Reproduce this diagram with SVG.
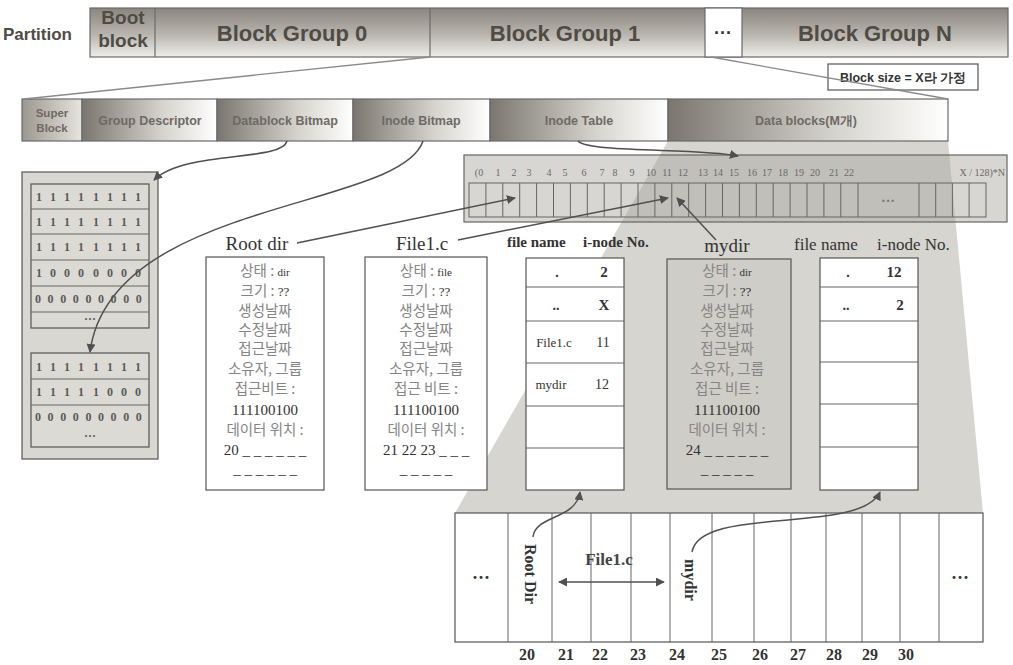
<svg xmlns="http://www.w3.org/2000/svg" width="1013" height="665" viewBox="0 0 1013 665">
<defs>
<linearGradient id="gv" x1="0" y1="0" x2="0" y2="1">
<stop offset="0" stop-color="#8a867f"/><stop offset="0.55" stop-color="#b9b6af"/><stop offset="1" stop-color="#efeee9"/>
</linearGradient>
<linearGradient id="gh" x1="0" y1="0" x2="1" y2="0">
<stop offset="0" stop-color="#7a766f"/><stop offset="0.6" stop-color="#d6d4ce"/><stop offset="1" stop-color="#ffffff"/>
</linearGradient>
<linearGradient id="gs" x1="0" y1="0" x2="1" y2="0">
<stop offset="0" stop-color="#9c978f"/><stop offset="1" stop-color="#e6e4de"/>
</linearGradient>
<marker id="ah" viewBox="0 0 10 10" refX="9" refY="5" markerWidth="6" markerHeight="6" orient="auto-start-reverse">
<path d="M0,0 L10,5 L0,10 z" fill="#505050"/>
</marker>
</defs>
<style>
.bar{stroke:#6a6a6a;stroke-width:1.2}
.bt{font-family:"Liberation Sans",Arial,sans-serif;font-weight:bold;fill:#4f4b45;text-anchor:middle}
.st{font-family:"Liberation Sans",Arial,sans-serif;font-weight:bold;fill:#6e6a63;font-size:12.5px;text-anchor:middle}
.box{fill:#fff;stroke:#555;stroke-width:1.2}
.gbox{fill:#cfcdc7;stroke:#555;stroke-width:1.2}
.ko{font-family:"Noto Sans CJK KR","Noto Sans",sans-serif;font-size:14.5px;fill:#858585;text-anchor:middle}
.sr{font-family:"Liberation Serif","Times New Roman",serif;fill:#333}
.num{font-family:"Liberation Serif","Times New Roman",serif;font-size:10px;fill:#6a6a6a;text-anchor:middle}
.bits{font-family:"Liberation Serif","Times New Roman",serif;font-size:12px;font-weight:bold;fill:#5a5a5a;text-anchor:middle}
.cell{fill:none;stroke:#666;stroke-width:1}
.con{fill:none;stroke:#505050;stroke-width:1.5}
.thin{fill:none;stroke:#8a8a8a;stroke-width:1.3}
</style>

<rect width="1013" height="665" fill="#ffffff"/>

<!-- gray wedge (data blocks expansion) -->
<polygon id="wedge" points="668,141 948,141 983,513 455,513" fill="#d6d5cf"/>

<g id="partition">
<text x="3" y="40" class="bt" style="text-anchor:start;font-size:17px">Partition</text>
<rect x="90" y="8" width="918" height="49" fill="url(#gv)" class="bar"/>
<line x1="155" y1="8" x2="155" y2="57" class="bar"/>
<line x1="430" y1="8" x2="430" y2="57" class="bar"/>
<rect x="705" y="8" width="37" height="49" fill="#fff" class="bar"/>
<text x="123" y="24" class="bt" style="font-size:19px">Boot</text>
<text x="123" y="47" class="bt" style="font-size:19px">block</text>
<text x="292" y="41" class="bt" style="font-size:22px">Block Group 0</text>
<text x="565" y="41" class="bt" style="font-size:22px">Block Group 1</text>
<text x="723" y="39" class="bt" style="font-size:18px;fill:#333">···</text>
<text x="875" y="41" class="bt" style="font-size:22px">Block Group N</text>
</g>

<g id="blocksize">
<rect x="828" y="64" width="150" height="26" class="box"/>
<text x="903" y="82" class="bt" style="font-size:12.5px;fill:#333">Block size = X라 가정</text>
</g>

<g id="groupbar">
<rect x="22" y="99" width="60" height="42" fill="url(#gs)" class="bar"/>
<rect x="82" y="99" width="135" height="42" fill="url(#gh)" class="bar"/>
<rect x="217" y="99" width="136" height="42" fill="url(#gh)" class="bar"/>
<rect x="353" y="99" width="137" height="42" fill="url(#gh)" class="bar"/>
<rect x="490" y="99" width="178" height="42" fill="url(#gh)" class="bar"/>
<rect x="668" y="99" width="280" height="42" fill="url(#gh)" class="bar"/>
<text x="52" y="117" class="st" style="font-size:11.5px">Super</text>
<text x="52" y="132" class="st" style="font-size:11.5px">Block</text>
<text x="150" y="125" class="st">Group  Descriptor</text>
<text x="285" y="125" class="st">Datablock  Bitmap</text>
<text x="421" y="125" class="st">Inode  Bitmap</text>
<text x="579" y="125" class="st">Inode  Table</text>
<text x="806" y="125" class="st">Data blocks(M개)</text>
</g>

<g id="inodebitmap">
<rect x="22" y="172" width="136" height="287" fill="#d9d7d1" stroke="#555" stroke-width="1.2"/>
<rect x="31" y="184" width="118" height="144" fill="#dcdad4" stroke="#555" stroke-width="1.2"/>
<line x1="31" y1="209" x2="149" y2="209" class="cell"/>
<line x1="31" y1="234" x2="149" y2="234" class="cell"/>
<line x1="31" y1="260" x2="149" y2="260" class="cell"/>
<line x1="31" y1="286" x2="149" y2="286" class="cell"/>
<line x1="31" y1="312" x2="149" y2="312" class="cell"/>
<text class="bits" y="201" x="39 53 67 81 96 110 124 138">11111111</text>
<text class="bits" y="226" x="39 53 67 81 96 110 124 138">11111111</text>
<text class="bits" y="251" x="39 53 67 81 96 110 124 138">11111111</text>
<text class="bits" y="277" x="39 53 67 81 96 110 124 138">10000000</text>
<text class="bits" y="303" x="38 50.6 63.2 75.8 88.4 101 113.6 126.2 138.8">000000000</text>
<text class="bits" y="323" x="90">···</text>
<rect x="31" y="353" width="118" height="94" fill="#dcdad4" stroke="#555" stroke-width="1.2"/>
<line x1="31" y1="379" x2="149" y2="379" class="cell"/>
<line x1="31" y1="405" x2="149" y2="405" class="cell"/>
<text class="bits" y="371" x="39 53 67 81 96 110 124 138">11111111</text>
<text class="bits" y="396" x="39 53 67 81 96 110 124 138">11111000</text>
<text class="bits" y="421" x="38 50.6 63.2 75.8 88.4 101 113.6 126.2 138.8">000000000</text>
<text class="bits" y="440" x="90">···</text>
</g>

<g id="inodetable">
<rect x="464" y="155" width="543" height="67" fill="#a8a59e" fill-opacity="0.45" stroke="#666" stroke-width="1.2"/>
<rect x="469" y="183" width="517" height="34" class="cell"/>
<path class="cell" d="M485.9 183V217M502.8 183V217M519.7 183V217M536.6 183V217M553.5 183V217M570.4 183V217M587.3 183V217M604.2 183V217M621.1 183V217M638 183V217M654.9 183V217M671.8 183V217M688.7 183V217M705.6 183V217M722.5 183V217M739.4 183V217M756.3 183V217M773.2 183V217M790.1 183V217M807 183V217M823.9 183V217M840.8 183V217M858 183V217M919 183V217M935.7 183V217M952.4 183V217M969.1 183V217"/>
<text class="num" y="176" x="479">(0</text>
<text class="num" y="176" x="498">1</text>
<text class="num" y="176" x="514">2</text>
<text class="num" y="176" x="529">3</text>
<text class="num" y="176" x="549">4</text>
<text class="num" y="176" x="565">5</text>
<text class="num" y="176" x="584">6</text>
<text class="num" y="176" x="602">7</text>
<text class="num" y="176" x="615">8</text>
<text class="num" y="176" x="632">9</text>
<text class="num" y="176" x="651">10</text>
<text class="num" y="176" x="667">11</text>
<text class="num" y="176" x="683">12</text>
<text class="num" y="176" x="703">13</text>
<text class="num" y="176" x="718">14</text>
<text class="num" y="176" x="734">15</text>
<text class="num" y="176" x="752">16</text>
<text class="num" y="176" x="767">17</text>
<text class="num" y="176" x="783">18</text>
<text class="num" y="176" x="799">19</text>
<text class="num" y="176" x="815">20</text>
<text class="num" y="176" x="834">21</text>
<text class="num" y="176" x="849">22</text>
<text class="num" y="176" x="1005" style="text-anchor:end">X / 128)*N</text>
<text class="num" y="206" x="888" style="font-size:14px;font-weight:bold;fill:#777">···</text>
</g>

<g id="rootdir">
<text class="sr" x="257" y="250" style="font-size:19px;text-anchor:middle">Root dir</text>
<rect x="206" y="257" width="118" height="233" class="box"/>
<text class="ko" x="265" y="276">상태 : <tspan class="sr" style="font-size:11px">dir</tspan></text>
<text class="ko" x="265" y="296">크기 : <tspan class="sr" style="font-size:13px">??</tspan></text>
<text class="ko" x="265" y="316">생성날짜</text>
<text class="ko" x="265" y="335">수정날짜</text>
<text class="ko" x="265" y="354">접근날짜</text>
<text class="ko" x="265" y="374">소유자, 그룹</text>
<text class="ko" x="265" y="394">접근비트 :</text>
<text class="sr" x="265" y="415" style="font-size:15px;text-anchor:middle">111100100</text>
<text class="ko" x="265" y="435">데이터 위치 :</text>
<text class="sr" x="265" y="455" style="font-size:15px;text-anchor:middle">20 _ _ _ _ _ _</text>
<text class="sr" x="265" y="474" style="font-size:15px;text-anchor:middle">_ _ _ _ _ _</text>
</g>

<g id="file1c">
<text class="sr" x="422" y="250" style="font-size:19px;text-anchor:middle">File1.c</text>
<rect x="365" y="257" width="122" height="233" class="box"/>
<text class="ko" x="426" y="276">상태 : <tspan class="sr" style="font-size:11px">file</tspan></text>
<text class="ko" x="426" y="296">크기 : <tspan class="sr" style="font-size:13px">??</tspan></text>
<text class="ko" x="426" y="316">생성날짜</text>
<text class="ko" x="426" y="335">수정날짜</text>
<text class="ko" x="426" y="354">접근날짜</text>
<text class="ko" x="426" y="374">소유자, 그룹</text>
<text class="ko" x="426" y="394">접근 비트 :</text>
<text class="sr" x="426" y="415" style="font-size:15px;text-anchor:middle">111100100</text>
<text class="ko" x="426" y="435">데이터 위치 :</text>
<text class="sr" x="426" y="455" style="font-size:15px;text-anchor:middle">21 22 23 _ _ _</text>
<text class="sr" x="426" y="474" style="font-size:15px;text-anchor:middle">_ _ _ _ _</text>
</g>

<g id="rootdirtable">
<text class="sr" x="507" y="247" style="font-size:15px;font-weight:bold">file name</text>
<text class="sr" x="583" y="247" style="font-size:15px;font-weight:bold">i-node No.</text>
<rect x="526" y="258" width="98" height="232" class="box"/>
<path class="cell" d="M526 287H624M526 321H624M526 363H624M526 406H624M526 448H624"/>
<text class="sr" x="557" y="277" style="font-size:14px;font-weight:bold;text-anchor:middle">.</text>
<text class="sr" x="604" y="277" style="font-size:15px;font-weight:bold;text-anchor:middle">2</text>
<text class="sr" x="556" y="310" style="font-size:14px;font-weight:bold;text-anchor:middle">..</text>
<text class="sr" x="604" y="310" style="font-size:15px;font-weight:bold;text-anchor:middle">X</text>
<text class="sr" x="554" y="347" style="font-size:13px;text-anchor:middle">File1.c</text>
<text class="sr" x="603" y="347" style="font-size:14px;text-anchor:middle">11</text>
<text class="sr" x="551" y="389" style="font-size:13px;text-anchor:middle">mydir</text>
<text class="sr" x="602" y="389" style="font-size:14px;text-anchor:middle">12</text>
</g>

<g id="mydir">
<text class="sr" x="727" y="252" style="font-size:19px;text-anchor:middle">mydir</text>
<rect x="667" y="259" width="124" height="230" class="gbox"/>
<text class="ko" x="727" y="276">상태 : <tspan class="sr" style="font-size:11px">dir</tspan></text>
<text class="ko" x="727" y="296">크기 : <tspan class="sr" style="font-size:13px">??</tspan></text>
<text class="ko" x="727" y="316">생성날짜</text>
<text class="ko" x="727" y="335">수정날짜</text>
<text class="ko" x="727" y="354">접근날짜</text>
<text class="ko" x="727" y="374">소유자, 그룹</text>
<text class="ko" x="727" y="394">접근 비트 :</text>
<text class="sr" x="727" y="415" style="font-size:15px;text-anchor:middle">111100100</text>
<text class="ko" x="727" y="435">데이터 위치 :</text>
<text class="sr" x="727" y="455" style="font-size:15px;text-anchor:middle">24 _ _ _ _ _ _</text>
<text class="sr" x="727" y="474" style="font-size:15px;text-anchor:middle">_ _ _ _ _</text>
</g>

<g id="mydirtable">
<text class="sr" x="794" y="250" style="font-size:17px">file name</text>
<text class="sr" x="877" y="250" style="font-size:17px">i-node No.</text>
<rect x="820" y="258" width="98" height="232" class="box"/>
<path class="cell" d="M820 287H918M820 321H918M820 362H918M820 404H918M820 447H918"/>
<text class="sr" x="848" y="277" style="font-size:14px;font-weight:bold;text-anchor:middle">.</text>
<text class="sr" x="894" y="277" style="font-size:15px;font-weight:bold;text-anchor:middle">12</text>
<text class="sr" x="846" y="310" style="font-size:14px;font-weight:bold;text-anchor:middle">..</text>
<text class="sr" x="900" y="310" style="font-size:15px;font-weight:bold;text-anchor:middle">2</text>
</g>

<g id="datablocks">
<rect x="455" y="513" width="528" height="129" class="box"/>
<path class="cell" d="M508 513V642M552 513V642M591 513V642M631 513V642M670 513V642M712 513V642M754 513V642M791 513V642M826 513V642M862 513V642M900 513V642M939 513V642"/>
<text class="sr" x="481" y="584" style="font-size:18px;font-weight:bold;text-anchor:middle">···</text>
<text class="sr" x="960" y="584" style="font-size:18px;font-weight:bold;text-anchor:middle">···</text>
<text class="sr" transform="translate(530,574) rotate(90)" style="font-size:16px;font-weight:bold;text-anchor:middle;dominant-baseline:central">Root Dir</text>
<text class="sr" transform="translate(690,580) rotate(90)" style="font-size:16px;font-weight:bold;text-anchor:middle;dominant-baseline:central">mydir</text>
<text class="sr" x="609" y="565" style="font-size:17px;font-weight:bold;text-anchor:middle;fill:#444">File1.c</text>
<g class="sr" style="font-size:16px;font-weight:bold;text-anchor:middle">
<text x="527" y="660">20</text><text x="566" y="660">21</text><text x="600" y="660">22</text><text x="638" y="660">23</text><text x="677" y="660">24</text><text x="719" y="660">25</text><text x="760" y="660">26</text><text x="798" y="660">27</text><text x="834" y="660">28</text><text x="870" y="660">29</text><text x="906" y="660">30</text>
</g>
</g>

<g id="connectors">
<line x1="430" y1="57" x2="24" y2="99" class="thin"/>
<line x1="711" y1="57" x2="948" y2="99" class="thin"/>
<path class="con" d="M287 141 C282 162 185 150 154 180" marker-end="url(#ah)"/>
<path class="con" d="M423 141 C400 210 110 200 90 352" marker-end="url(#ah)"/>
<path class="con" d="M578 141 C588 153 700 148 738 156" marker-end="url(#ah)"/>
<line class="con" x1="297" y1="243" x2="515" y2="198" marker-end="url(#ah)"/>
<line class="con" x1="458" y1="240" x2="668" y2="198" marker-end="url(#ah)"/>
<line class="con" x1="716" y1="240" x2="677" y2="198" marker-end="url(#ah)"/>
<path class="con" d="M533 537 C535 515 576 520 580 492" marker-end="url(#ah)"/>
<path class="con" d="M692 552 C700 505 860 535 880 492" marker-end="url(#ah)"/>
<line class="con" x1="559" y1="582" x2="664" y2="582" marker-start="url(#ah)" marker-end="url(#ah)"/>
</g>
</svg>
